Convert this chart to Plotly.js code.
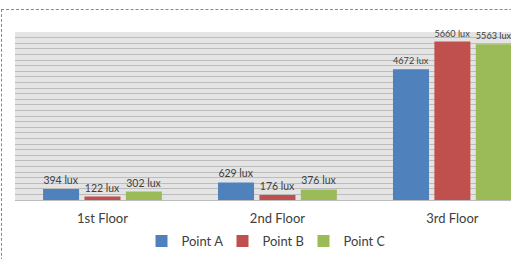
<!DOCTYPE html>
<html><head><meta charset="utf-8">
<script src="https://cdn.plot.ly/plotly-3.0.1.min.js"></script>
<style>
html,body{margin:0;padding:0;overflow:hidden;background:#fff;}
#frame{position:absolute;left:1px;top:9px;width:700px;height:400px;border-left:1px dashed #888;border-top:1px dashed #888;pointer-events:none;z-index:5;}
#chart{position:absolute;left:0;top:0;width:511px;height:259px;}
</style></head>
<body>
<div id="chart"></div>
<div id="frame"></div>
<script>
const floors = ["1st Floor", "2nd Floor", "3rd Floor"];
const pointA = [394, 629, 4672];
const pointB = [122, 176, 5660];
const pointC = [302, 376, 5563];
const seriesNames = ["Point A", "Point B", "Point C"];
const colors = ["#4f81bd", "#c0504d", "#9bbb59"];
const values = [pointA, pointB, pointC];

const traces = values.map((v, i) => ({
  type: "bar",
  name: seriesNames[i],
  x: floors,
  y: v,
  marker: {color: colors[i]},
  text: v.map(n => n + " lux"),
  textposition: "outside",
  cliponaxis: false,
  textfont: {family: "Lato, sans-serif", size: 10.5, color: "#404040"}
}));

const layout = {
  width: 511, height: 259,
  margin: {l: 15, r: 0, t: 32, b: 59},
  paper_bgcolor: "#ffffff",
  plot_bgcolor: "#e4e4e4",
  barmode: "group",
  bargap: 0.29,
  bargroupgap: 0.13,
  showlegend: true,
  legend: {orientation: "h", x: 0.5, xanchor: "center", y: -0.245, yanchor: "middle",
    font: {family: "Lato, sans-serif", size: 13, color: "#404040"}, itemwidth: 30,
    entrywidth: 36, entrywidthmode: "pixels", tracegroupgap: 0},
  xaxis: {range: [-0.5, 2.335], showgrid: false, showline: false, ticks: "", ticklabelstandoff: 9,
    tickfont: {family: "Lato, sans-serif", size: 13, color: "#404040"}},
  yaxis: {range: [0, 6000], dtick: 200, showticklabels: false, gridcolor: "#bcbcbc", gridwidth: 1,
    zeroline: true, zerolinecolor: "#bcbcbc", showline: false, ticks: ""},
  font: {family: "Lato, sans-serif"}
};

Plotly.newPlot("chart", traces, layout, {displayModeBar: false, staticPlot: true});
</script>
</body></html>
